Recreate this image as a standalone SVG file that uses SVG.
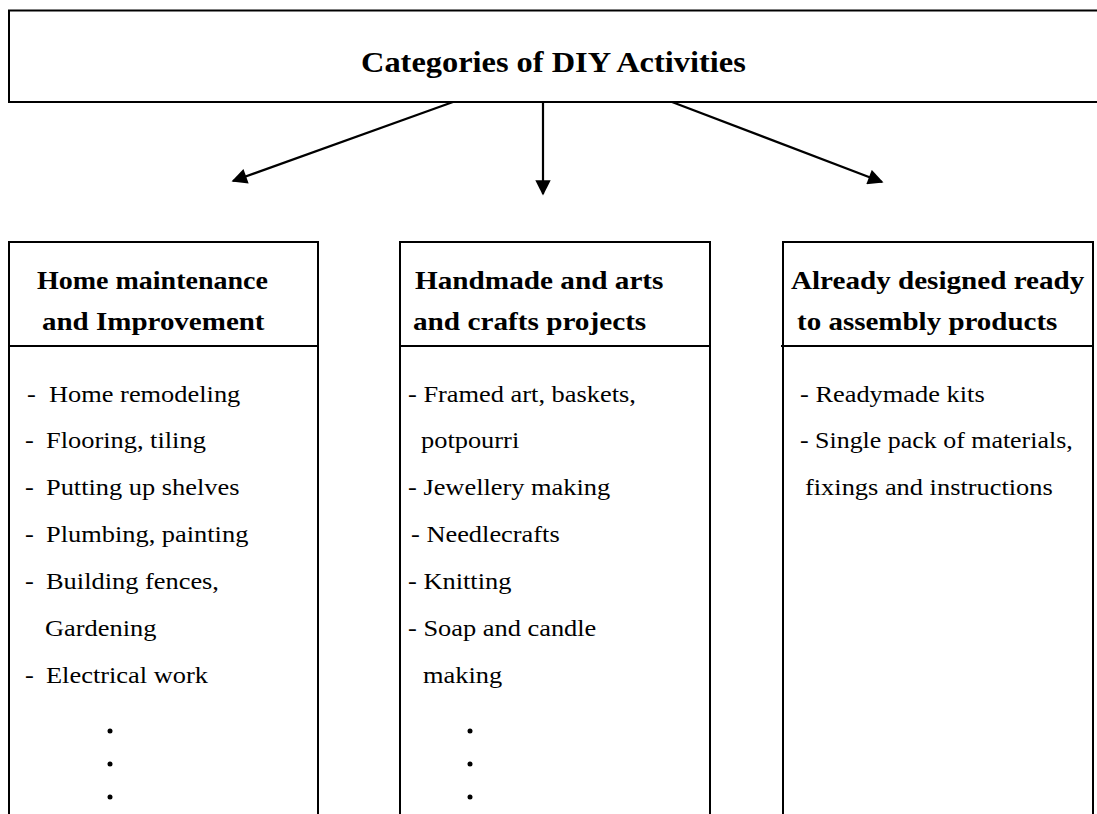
<svg xmlns="http://www.w3.org/2000/svg" width="1097" height="814" viewBox="0 0 1097 814">
  <style>
    .frame { fill: none; stroke: #000; stroke-width: 2; }
    .link { fill: none; stroke: #000; stroke-width: 2.2; }
    .title { font-family: 'Liberation Serif', serif; font-weight: bold; font-size: 30px; fill: #000; }
    .head { font-family: 'Liberation Serif', serif; font-weight: bold; font-size: 25px; fill: #000; }
    .item { font-family: 'Liberation Serif', serif; font-size: 24px; fill: #000; }
    .dot { fill: #000; }
  </style>
  <defs>
    <marker id="arrow" viewBox="0 0 10 10" refX="9" refY="5" markerWidth="7.5" markerHeight="7" markerUnits="strokeWidth" orient="auto">
      <path d="M0,0 L10,5 L0,10 Z" fill="#000"/>
    </marker>
  </defs>

  <rect width="1097" height="814" fill="#fff"/>

  <!-- top category box -->
  <g id="root">
    <rect class="frame" x="9" y="10.5" width="1100" height="91.5"/>
    <text class="title" transform="translate(361,72) scale(1.08,1)">Categories of DIY Activities</text>
  </g>

  <!-- connectors -->
  <g id="connectors">
    <line class="link" x1="453" y1="102" x2="233" y2="181" marker-end="url(#arrow)"/>
    <line class="link" x1="543" y1="102" x2="543" y2="194" marker-end="url(#arrow)"/>
    <line class="link" x1="672" y1="102" x2="882" y2="182" marker-end="url(#arrow)"/>
  </g>

  <!-- home maintenance column -->
  <g id="home">
    <path class="frame" d="M9,820 V242 H318 V820"/>
    <line class="frame" x1="9" y1="346" x2="318" y2="346"/>
    <text class="head" transform="translate(37,289) scale(1.12,1)">Home maintenance</text>
    <text class="head" transform="translate(42,330) scale(1.16,1)">and Improvement</text>
    <text class="item" transform="translate(27,402) scale(1.1,1)">-</text>
    <text class="item" transform="translate(49,402) scale(1.1,1)">Home remodeling</text>
    <text class="item" transform="translate(25,448) scale(1.1,1)">-</text>
    <text class="item" transform="translate(46,448) scale(1.1,1)">Flooring, tiling</text>
    <text class="item" transform="translate(25,495) scale(1.1,1)">-</text>
    <text class="item" transform="translate(46,495) scale(1.1,1)">Putting up shelves</text>
    <text class="item" transform="translate(25,542) scale(1.1,1)">-</text>
    <text class="item" transform="translate(46,542) scale(1.1,1)">Plumbing, painting</text>
    <text class="item" transform="translate(25,589) scale(1.1,1)">-</text>
    <text class="item" transform="translate(46,589) scale(1.1,1)">Building fences,</text>
    <text class="item" transform="translate(45,636) scale(1.1,1)">Gardening</text>
    <text class="item" transform="translate(25,683) scale(1.1,1)">-</text>
    <text class="item" transform="translate(46,683) scale(1.1,1)">Electrical work</text>
    <circle class="dot" cx="110" cy="731" r="2.5"/>
    <circle class="dot" cx="110" cy="764" r="2.5"/>
    <circle class="dot" cx="110" cy="797" r="2.5"/>
  </g>

  <!-- handmade column -->
  <g id="handmade">
    <path class="frame" d="M400,820 V242 H710 V820"/>
    <line class="frame" x1="400" y1="346" x2="710" y2="346"/>
    <text class="head" transform="translate(415,289) scale(1.17,1)">Handmade and arts</text>
    <text class="head" transform="translate(413,330) scale(1.17,1)">and crafts projects</text>
    <text class="item" transform="translate(408,402) scale(1.1,1)">- Framed art, baskets,</text>
    <text class="item" transform="translate(421,448) scale(1.1,1)">potpourri</text>
    <text class="item" transform="translate(408,495) scale(1.1,1)">- Jewellery making</text>
    <text class="item" transform="translate(411,542) scale(1.1,1)">- Needlecrafts</text>
    <text class="item" transform="translate(408,589) scale(1.1,1)">- Knitting</text>
    <text class="item" transform="translate(408,636) scale(1.1,1)">- Soap and candle</text>
    <text class="item" transform="translate(423,683) scale(1.1,1)">making</text>
    <circle class="dot" cx="470" cy="731" r="2.5"/>
    <circle class="dot" cx="470" cy="764" r="2.5"/>
    <circle class="dot" cx="470" cy="797" r="2.5"/>
  </g>

  <!-- ready-to-assemble column -->
  <g id="ready">
    <path class="frame" d="M783,820 V242 H1093 V820"/>
    <line class="frame" x1="781" y1="346" x2="1093" y2="346"/>
    <text class="head" transform="translate(791,289) scale(1.165,1)">Already designed ready</text>
    <text class="head" transform="translate(797,330) scale(1.16,1)">to assembly products</text>
    <text class="item" transform="translate(800,402) scale(1.1,1)">- Readymade kits</text>
    <text class="item" transform="translate(800,448) scale(1.08,1)">- Single pack of materials,</text>
    <text class="item" transform="translate(805,495) scale(1.1,1)">fixings and instructions</text>
  </g>
</svg>
